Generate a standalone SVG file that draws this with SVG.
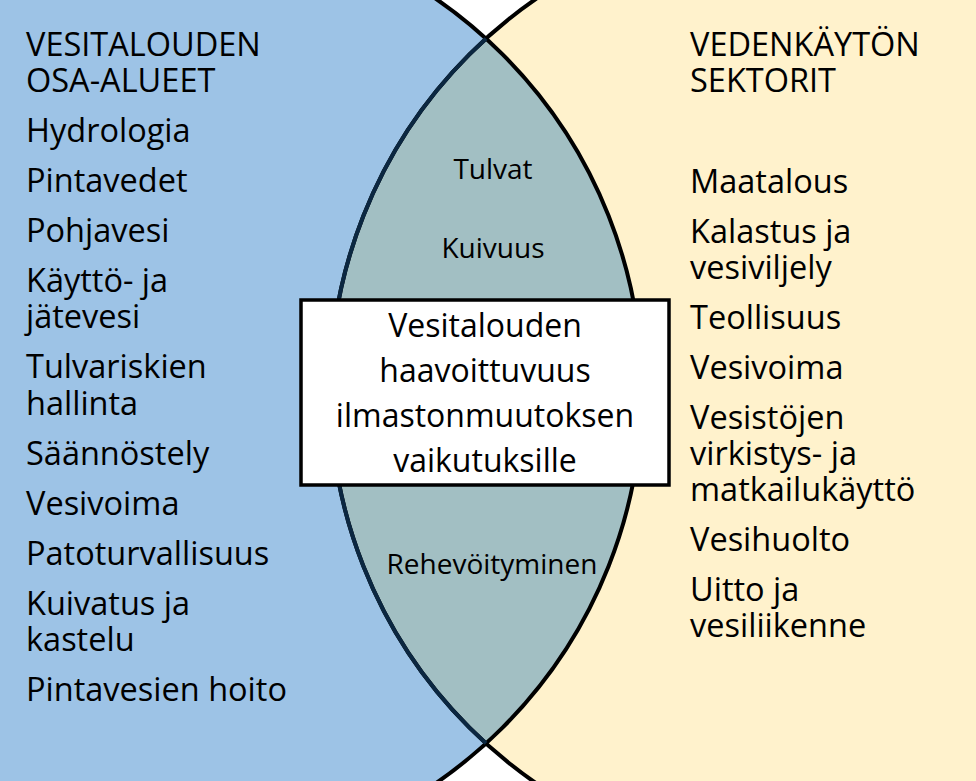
<svg xmlns="http://www.w3.org/2000/svg" width="976" height="781" viewBox="0 0 976 781">
<style>
.big{font-family:"Open Sans","Noto Sans","Liberation Sans",sans-serif;font-size:32.5px;fill:#000}
.mid{font-family:"Open Sans","Noto Sans","Liberation Sans",sans-serif;font-size:28px;fill:#000;text-anchor:middle}
.box{font-family:"Open Sans","Noto Sans","Liberation Sans",sans-serif;font-size:32px;fill:#000;text-anchor:middle}
.edge{fill:none;stroke:#000;stroke-width:4}
</style>
<defs>
<clipPath id="clipL"><circle cx="166" cy="391" r="476"/></clipPath>
</defs>
<rect x="0" y="0" width="976" height="781" fill="#ffffff"/>
<g id="left-set">
<circle cx="166" cy="391" r="476" fill="#9DC3E6"/>
</g>
<g id="right-set">
<circle cx="806" cy="391" r="476" fill="#FFF2CC"/>
</g>
<g id="overlap">
<circle cx="806" cy="391" r="476" fill="#A2BFC3" clip-path="url(#clipL)"/>
</g>
<g id="outlines">
<circle class="edge" cx="166" cy="391" r="476"/>
<circle class="edge" cx="806" cy="391" r="476"/>
<circle cx="806" cy="391" r="476" fill="none" stroke="#0b2741" stroke-width="4" clip-path="url(#clipL)"/>
</g>
<g id="left-texts">
<text class="big" x="26" y="56">VESITALOUDEN</text>
<text class="big" x="26" y="92">OSA-ALUEET</text>
<text class="big" x="26" y="142">Hydrologia</text>
<text class="big" x="26" y="192">Pintavedet</text>
<text class="big" x="26" y="242">Pohjavesi</text>
<text class="big" x="26" y="292">Käyttö- ja</text>
<text class="big" x="26" y="328">jätevesi</text>
<text class="big" x="26" y="378">Tulvariskien</text>
<text class="big" x="26" y="415">hallinta</text>
<text class="big" x="26" y="465">Säännöstely</text>
<text class="big" x="26" y="515">Vesivoima</text>
<text class="big" x="26" y="565">Patoturvallisuus</text>
<text class="big" x="26" y="615">Kuivatus ja</text>
<text class="big" x="26" y="651">kastelu</text>
<text class="big" x="26" y="701">Pintavesien hoito</text>
</g>
<g id="right-texts">
<text class="big" x="690" y="56">VEDENKÄYTÖN</text>
<text class="big" x="690" y="92">SEKTORIT</text>
<text class="big" x="690" y="193">Maatalous</text>
<text class="big" x="690" y="243">Kalastus ja</text>
<text class="big" x="690" y="279">vesiviljely</text>
<text class="big" x="690" y="329">Teollisuus</text>
<text class="big" x="690" y="379">Vesivoima</text>
<text class="big" x="690" y="429">Vesistöjen</text>
<text class="big" x="690" y="465">virkistys- ja</text>
<text class="big" x="690" y="501">matkailukäyttö</text>
<text class="big" x="690" y="551">Vesihuolto</text>
<text class="big" x="690" y="601">Uitto ja</text>
<text class="big" x="690" y="637">vesiliikenne</text>
</g>
<g id="overlap-texts">
<text class="mid" x="493" y="179">Tulvat</text>
<text class="mid" x="493" y="258">Kuivuus</text>
<text class="mid" x="492" y="574">Rehevöityminen</text>
</g>
<g id="center-box">
<rect x="301" y="300" width="368" height="185" fill="#ffffff" stroke="#000" stroke-width="3.5"/>
<text class="box" x="485" y="337">Vesitalouden</text>
<text class="box" x="485" y="382">haavoittuvuus</text>
<text class="box" x="485" y="427">ilmastonmuutoksen</text>
<text class="box" x="485" y="472">vaikutuksille</text>
</g>
</svg>
